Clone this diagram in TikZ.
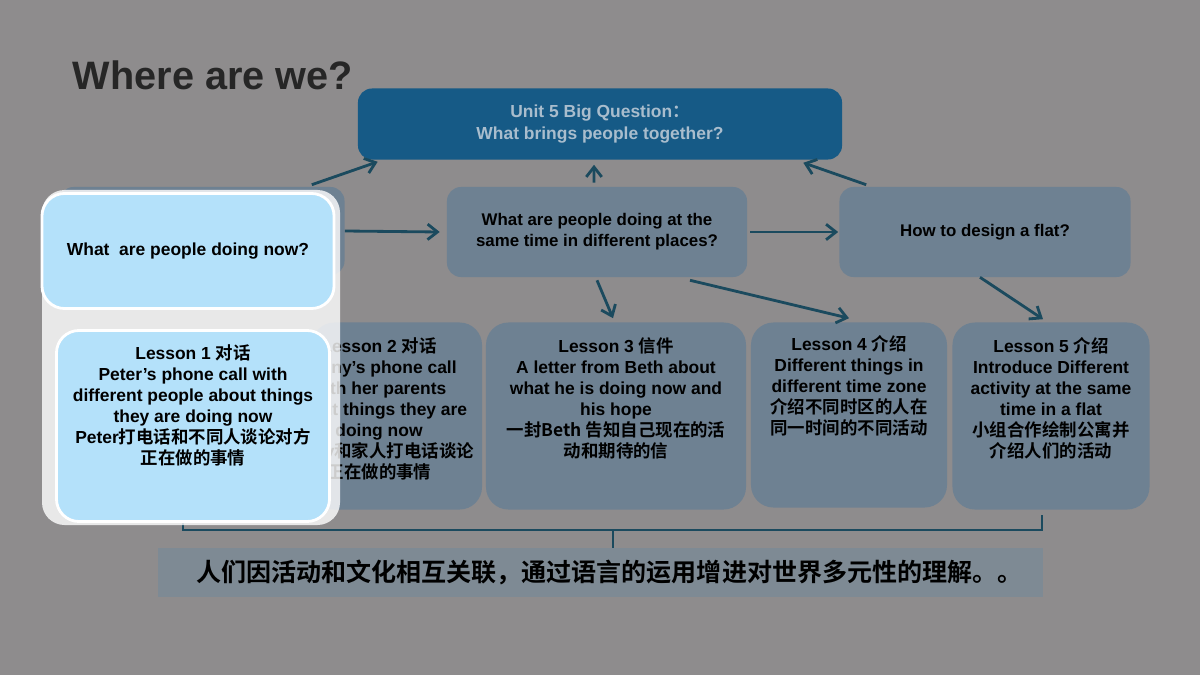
\documentclass[tikz,border=0pt]{standalone}
\usepackage{fontspec}
\setmainfont{Liberation Sans}
\newfontfamily\cjk{Noto Sans CJK SC}[BoldFont={Noto Sans CJK SC Bold}]
\usetikzlibrary{arrows.meta}
\definecolor{bgrey}{HTML}{8E8C8D}
\definecolor{qbox}{HTML}{6E8192}
\definecolor{topbox}{HTML}{165A86}
\definecolor{toptext}{HTML}{A9BDCD}
\definecolor{sky}{HTML}{B4E1FA}
\definecolor{link}{HTML}{1B4A5E}
\definecolor{band}{HTML}{7E8A94}
\newcommand\px{0.7113pt}
\begin{document}
\begin{tikzpicture}[x=0.025cm,y=-0.025cm,font=\bfseries,
		qnode/.style={rounded corners=10pt,fill=qbox,align=center,inner sep=0pt,font=\bfseries\fontsize{12}{15}\selectfont},
		lnode/.style={rounded corners=16pt,fill=qbox,inner sep=0pt},
		ltext/.style={align=center,inner sep=0pt,anchor=north,font=\bfseries\fontsize{12.4}{15}\selectfont},
		hnode/.style={rounded corners=16pt,fill=sky,draw=white,line width=2pt,align=center,inner sep=0pt},
		marrow/.style={-{Straight Barb[length=7pt,width=11pt]},line width=2pt,draw=link}]
		\useasboundingbox[fill=bgrey] (0,0) rectangle (1200,675);
		\node[anchor=west,font=\bfseries\fontsize{28.2}{30}\selectfont,text=black!85] (title) at (68,75) {Where are we?};

		% questions
		\node[qnode,fill=topbox,text=toptext,minimum width=484*\px,minimum height=71*\px,font=\bfseries\fontsize{12.4}{15}\selectfont] (big) at (600,124) {Unit 5 Big Question\cjk{：}\\What brings people together?};
		\node[qnode,minimum width=285*\px,minimum height=88*\px] (q1) at (202,231) {};
		\node[qnode,minimum width=300*\px,minimum height=90*\px] (q2) at (597,232) {What are people doing at the\\same time in different places?};
		\node[qnode,minimum width=291*\px,minimum height=90*\px] (q3) at (985,232) {How to design a flat?};

		% lessons
		\node[lnode,minimum width=170*\px,minimum height=187*\px] (l2) at (397,416) {};
		\node[lnode,minimum width=260*\px,minimum height=187*\px] (l3) at (616,416) {};
		\node[lnode,minimum width=196*\px,minimum height=185*\px] (l4) at (849,415) {};
		\node[lnode,minimum width=197*\px,minimum height=187*\px] (l5) at (1051,416) {};
		\node[ltext] (l2t) at ([xshift=-18*\px,yshift=-15*\px]l2.north) {Lesson 2 \cjk{对话}\\Jenny’s phone call\\with her parents\\about things they are\\doing now\\Jenny\cjk{和家人打电话谈论}\\\cjk{正在做的事情}};
		\node[ltext] (l3t) at ([yshift=-15*\px]l3.north) {Lesson 3 \cjk{信件}\\A letter from Beth about\\what he is doing now and\\his hope\\\cjk{一封}Beth \cjk{告知自己现在的活}\\\cjk{动和期待的信}};
		\node[ltext] (l4t) at ([yshift=-13*\px]l4.north) {Lesson 4 \cjk{介绍}\\Different things in\\different time zone\\\cjk{介绍不同时区的人在}\\\cjk{同一时间的不同活动}};
		\node[ltext] (l5t) at ([yshift=-15*\px]l5.north) {Lesson 5 \cjk{介绍}\\Introduce Different\\activity at the same\\time in a flat\\\cjk{小组合作绘制公寓并}\\\cjk{介绍人们的活动}};

		% connection
		\draw[marrow] ([xshift=-33*\px,yshift=2*\px]q1.north east) -- ([xshift=20*\px,yshift=-2*\px]big.south west);
		\draw[marrow] ([xshift=-3*\px,yshift=4*\px]q2.north) -- ([xshift=-6*\px,yshift=-5*\px]big.south);
		\draw[marrow] ([xshift=27*\px,yshift=2*\px]q3.north west) -- ([xshift=-39*\px,yshift=-3*\px]big.south east);
		\draw[marrow] (q1.east) -- ([xshift=-7*\px]q2.west);
		\draw[marrow] ([xshift=3*\px]q2.east) -- ([xshift=-1*\px]q3.west);
		\draw[marrow] ([yshift=-3*\px]q2.south) -- ([xshift=-3*\px,yshift=4*\px]l3.north);
		\draw[marrow] ([xshift=93*\px,yshift=-3*\px]q2.south) -- ([yshift=4*\px]l4.north);
		\draw[marrow] ([xshift=-5*\px]q3.south) -- ([xshift=-8*\px,yshift=3*\px]l5.north);

		% bracket and summary
		\node[fill=band,minimum width=884*\px,minimum height=49*\px,inner sep=0pt,anchor=north west] (sum) at (158,548) {};
		\node[font=\cjk\bfseries\fontsize{17.8}{20}\selectfont,inner sep=0pt] (sumt) at ([xshift=9*\px]sum.center) {人们因活动和文化相互关联，通过语言的运用增进对世界多元性的理解。。};
		\coordinate (bl) at (183,515);
		\coordinate (br) at (1042,515);
		\coordinate (mid) at (613,530);
		\draw[link,line width=2pt] (bl) |- (mid) -| (br);
		\draw[link,line width=2pt] (mid) -- (mid |- sum.north);

		% highlight
		\fill[white,opacity=0.8,rounded corners=16pt] (42,190) rectangle (340,525);
		\node[hnode,minimum width=292*\px,minimum height=115*\px,font=\bfseries\fontsize{12.4}{15}\selectfont] (h1) at (188,251) {What\ \ are people doing now?};
		\node[hnode,minimum width=273*\px,minimum height=191*\px] (h2) at (193,426) {};
		\node[ltext] (h2t) at ([yshift=-15*\px]h2.north) {Lesson 1 \cjk{对话}\\Peter’s phone call with\\different people about things\\they are doing now\\Peter\cjk{打电话和不同人谈论对方}\\\cjk{正在做的事情}};
	\end{tikzpicture}
\end{document}
